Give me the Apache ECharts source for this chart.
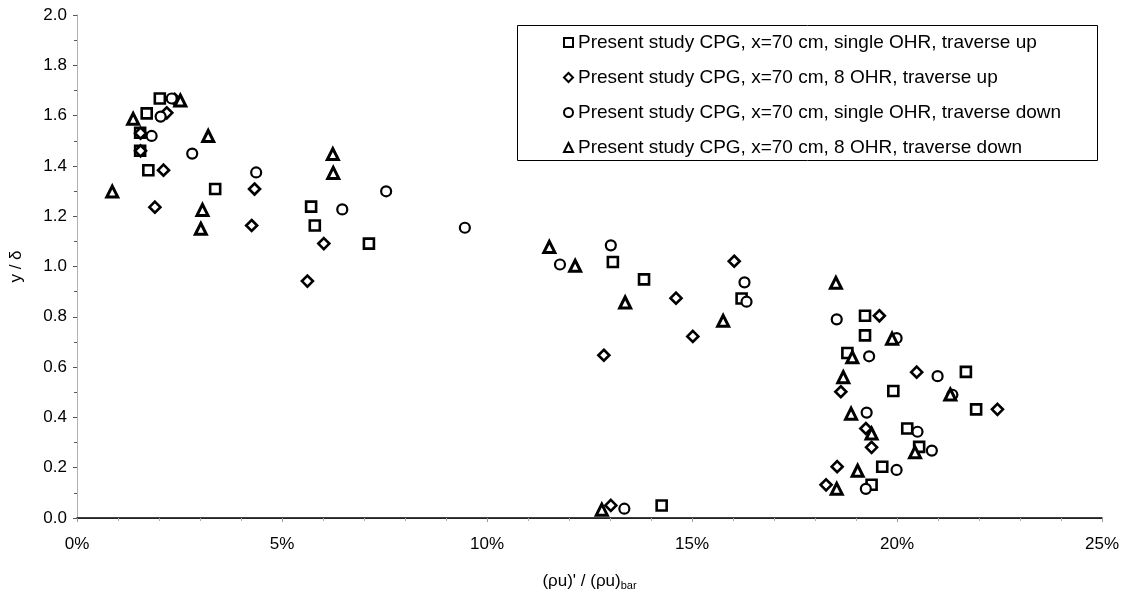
<!DOCTYPE html>
<html>
<head>
<meta charset="utf-8">
<script src="https://cdn.jsdelivr.net/npm/echarts@6/dist/echarts.min.js"></script>
<style>
html,body{margin:0;padding:0;background:#fff;}
#chart{width:1126px;height:596px;}
</style>
</head>
<body>
<div id="chart"></div>
<script>
// Data (x in %, y = y/δ)
const seriesNames = [
  'Present study CPG, x=70 cm, single OHR, traverse up',
  'Present study CPG, x=70 cm, 8 OHR, traverse up',
  'Present study CPG, x=70 cm, single OHR, traverse down',
  'Present study CPG, x=70 cm, 8 OHR, traverse down'
];
const sqX = [2.02,1.70,1.54,1.54,1.74,3.37,5.71,5.80,7.12,13.07,13.83,16.21,19.22,19.22,18.79,21.68,19.91,21.93,20.25,20.54,19.64,19.38,14.26];
const sqY = [1.668,1.609,1.532,1.460,1.383,1.308,1.238,1.163,1.091,1.018,0.949,0.873,0.804,0.726,0.656,0.581,0.505,0.432,0.356,0.283,0.204,0.132,0.050];
const diX = [2.38,2.19,1.55,1.55,2.11,4.33,1.90,4.26,6.02,16.03,5.62,14.61,19.57,15.02,12.85,20.48,18.63,22.45,19.24,19.38,18.54,18.27,13.02];
const diY = [1.665,1.611,1.530,1.460,1.383,1.308,1.236,1.163,1.091,1.021,0.942,0.874,0.804,0.722,0.647,0.580,0.502,0.432,0.356,0.281,0.204,0.132,0.050];
const ciX = [2.31,2.04,1.82,2.81,4.37,7.54,6.47,9.46,13.02,11.78,16.28,16.33,18.53,19.99,19.32,20.99,21.35,19.26,20.50,20.85,19.99,19.24,13.35];
const ciY = [1.668,1.596,1.519,1.449,1.374,1.299,1.227,1.154,1.084,1.008,0.937,0.860,0.790,0.715,0.643,0.564,0.490,0.419,0.343,0.268,0.191,0.116,0.037];
const trX = [2.52,1.37,3.20,6.24,6.25,0.86,3.06,3.02,11.52,12.15,18.51,13.37,15.76,19.88,18.91,18.69,21.30,18.88,19.38,20.44,19.04,18.53,12.80];
const trY = [1.660,1.587,1.519,1.447,1.372,1.298,1.225,1.150,1.078,1.003,0.935,0.857,0.784,0.713,0.639,0.560,0.491,0.415,0.336,0.261,0.188,0.116,0.033];
const xTicks = [0,5,10,15,20,25];
const yTicks = [0,0.2,0.4,0.6,0.8,1.0,1.2,1.4,1.6,1.8,2.0];

const pairs = (xs, ys) => xs.map((v, i) => [v, ys[i]]);
const FONT = '"Liberation Sans", Arial, sans-serif';

function mk(name, xs, ys, symbol, size, bw) {
  return {
    name: name,
    type: 'scatter',
    data: pairs(xs, ys),
    symbol: symbol,
    symbolSize: size,
    itemStyle: { color: '#fff', borderColor: '#000', borderWidth: bw, opacity: 1 },
    emphasis: { disabled: true }
  };
}

const chart = echarts.init(document.getElementById('chart'), null, { renderer: 'canvas' });
chart.setOption({
  animation: false,
  backgroundColor: '#fff',
  textStyle: { fontFamily: FONT },
  grid: { left: 77, right: 24, top: 15, bottom: 75, containLabel: false },
  graphic: [{
    type: 'rect',
    shape: { x: 517.5, y: 25.5, width: 580, height: 135 },
    style: { fill: 'none', stroke: '#000', lineWidth: 1 },
    z: 10
  }],
  legend: {
    orient: 'vertical',
    left: 517,
    top: 25,
    padding: [8, 10, 8, 46],
    itemGap: 16,
    itemWidth: 9,
    itemHeight: 9,
    textStyle: { fontFamily: FONT, fontSize: 19, color: '#000', lineHeight: 18 },
    data: seriesNames
  },
  xAxis: [{
    type: 'value',
    min: xTicks[0], max: xTicks[xTicks.length - 1], interval: 5,
    axisLine: { show: true, lineStyle: { color: '#000', width: 1.5 } },
    axisTick: { show: true, length: 4, lineStyle: { color: '#999' } },
    minorTick: { show: true, splitNumber: 5, length: 3, lineStyle: { color: '#aaa' } },
    splitLine: { show: false },
    axisLabel: { formatter: '{value}%', fontSize: 17, color: '#000', margin: 18, fontFamily: FONT },
    name: "{a|(ρu)' / (ρu)}{b|bar}",
    nameLocation: 'middle',
    nameGap: 54,
    nameTextStyle: {
      rich: {
        a: { fontSize: 17, color: '#000', fontFamily: FONT },
        b: { fontSize: 11, color: '#000', fontFamily: FONT, padding: [8, 0, 0, 0] }
      }
    }
  }, {
    type: 'value', position: 'top',
    min: 0, max: 25, interval: 5,
    axisLine: { show: true, lineStyle: { color: '#222', width: 1.2 } },
    axisTick: { show: false }, axisLabel: { show: false }, splitLine: { show: false }
  }],
  yAxis: [{
    type: 'value',
    min: yTicks[0], max: yTicks[yTicks.length - 1], interval: 0.2,
    axisLine: { show: true, lineStyle: { color: '#bbb', type: 'dotted', width: 1 } },
    axisTick: { show: true, length: 4, lineStyle: { color: '#555' } },
    minorTick: { show: true, splitNumber: 2, length: 3, lineStyle: { color: '#555' } },
    splitLine: { show: false },
    axisLabel: { formatter: v => v.toFixed(1), fontSize: 17, color: '#000', margin: 10, fontFamily: FONT },
    name: 'y / δ',
    nameLocation: 'middle',
    nameRotate: 90,
    nameGap: 52,
    nameTextStyle: { fontSize: 17, color: '#000', fontFamily: FONT }
  }, {
    type: 'value', position: 'right',
    min: 0, max: 2, interval: 0.2,
    axisLine: { show: true, lineStyle: { color: '#aaa', type: 'dotted', width: 1 } },
    axisTick: { show: false }, axisLabel: { show: false }, splitLine: { show: false }
  }],
  series: [
    mk(seriesNames[0], sqX, sqY, 'rect', 10, 2.6),
    mk(seriesNames[1], diX, diY, 'diamond', 11, 2.6),
    mk(seriesNames[2], ciX, ciY, 'circle', 10, 2.2),
    mk(seriesNames[3], trX, trY, 'triangle', 11, 3)
  ]
});
</script>
</body>
</html>
